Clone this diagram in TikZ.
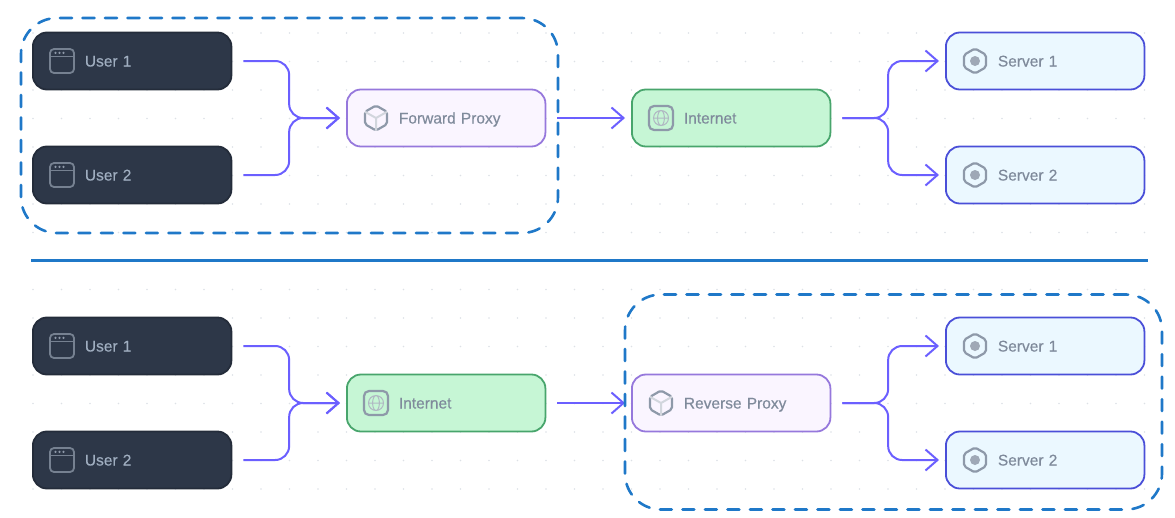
\documentclass[tikz,border=0pt]{standalone}
\usepackage{fontspec}
\setmainfont{Liberation Sans}
\newfontfamily\boxfont{Liberation Sans}[FakeBold=0.35]
\usetikzlibrary{arrows.meta,positioning,calc}
\definecolor{usercol}{HTML}{2D3748}
\definecolor{usertext}{HTML}{A0AEC0}
\definecolor{plaintext}{HTML}{7F8A9B}
\definecolor{iconcol}{HTML}{8E99A9}
\definecolor{proxyfill}{HTML}{FAF5FF}
\definecolor{proxyline}{HTML}{9678DC}
\definecolor{netfill}{HTML}{C6F6D5}
\definecolor{netline}{HTML}{48A56C}
\definecolor{serverfill}{HTML}{EBF8FF}
\definecolor{serverline}{HTML}{4A4FD8}
\definecolor{linkcol}{HTML}{6B5FFF}
\definecolor{framecol}{HTML}{1F78C8}
\definecolor{dotcol}{HTML}{DDE1E6}
\tikzset{
  box/.style={draw,line width=1.8pt,rounded corners=14pt,minimum height=57pt,
    text width=194.5pt,inner xsep=2pt,inner ysep=0pt,text height=13pt,text depth=2pt,
    font=\boxfont\fontsize{15.5}{17}\selectfont,
    execute at begin node=\hspace*{50pt}},
  userbox/.style={box,draw=usercol!80!black,fill=usercol,text=usertext},
  proxybox/.style={box,draw=proxyline,fill=proxyfill,text=plaintext},
  netbox/.style={box,draw=netline,fill=netfill,text=plaintext},
  serverbox/.style={box,draw=serverline,fill=serverfill,text=plaintext},
  link/.style={draw=linkcol,line width=2pt,rounded corners=14pt,shorten <=11pt,shorten >=6pt,
    -{Straight Barb[length=12pt,width=21pt,line width=2pt]}},
  frame/.style={draw=framecol,line width=2.6pt,dash pattern=on 12pt off 10.5pt,
    rounded corners=36pt,minimum width=537pt,minimum height=215pt,line cap=round},
  browsericon/.pic={
    \draw[iconcol!75!usercol,line width=1.8pt,rounded corners=4pt] (-12,-12) rectangle (12,12);
    \draw[iconcol!75!usercol,line width=1.8pt] (-12,-4.5)--(12,-4.5);
    \foreach \i in {-6.5,-2.5,1.5} \fill[iconcol] (\i,-8.2) circle(1.2);
  },
  cubeicon/.pic={
    \draw[iconcol,line width=2.2pt,rounded corners=2pt] (0,-12.5)--(11,-6.2)--(11,6.2)--(0,12.5)--(-11,6.2)--(-11,-6.2)--cycle;
    \draw[iconcol!40,line width=2pt] (-11,-6.2)--(0,0)--(11,-6.2) (0,0)--(0,12.5);
  },
  globeicon/.pic={
    \draw[iconcol,line width=2.2pt,rounded corners=5pt] (-12,-12) rectangle (12,12);
    \draw[iconcol!70,line width=1pt] (0,0) circle(7.5) (-7.5,0)--(7.5,0) (0,0) ellipse(3.4 and 7.5);
  },
  hexicon/.pic={
    \draw[iconcol,line width=2.2pt,rounded corners=2pt] (0,-12.5)--(11,-6.2)--(11,6.2)--(0,12.5)--(-11,6.2)--(-11,-6.2)--cycle;
    \fill[iconcol!85] (0,0) circle(5);
  },
}
\newcommand \mybox[6]
{
\node[#2,anchor=west] (#1) at (#3,#4) {#5};
\pic at ($(#1.west)+(30,0)$) {#6};
}
\begin{document}
\begin{tikzpicture}[x=1pt,y=-1pt]
\useasboundingbox (0,0) rectangle (1175,517);
% dotted paper
\foreach \r in {0,...,16}
  \foreach \c in {0,...,39}
    \fill[dotcol] ({33+28.5*\c},{33+28.5*\r}) circle(0.9);
% upper half
\mybox{ua}{userbox}{32}{61}{User 1}{browsericon}
\mybox{ub}{userbox}{32}{175}{User 2}{browsericon}
\mybox{fp}{proxybox}{346}{118}{Forward Proxy}{cubeicon}
\mybox{na}{netbox}{631}{118}{Internet}{globeicon}
\mybox{sa}{serverbox}{945}{61}{Server 1}{hexicon}
\mybox{sb}{serverbox}{945}{175}{Server 2}{hexicon}
\draw[link] (ua.east) -| ($(ua.east)!0.5!(fp.west)$) |- (fp.west);
\draw[link] (ub.east) -| ($(ub.east)!0.5!(fp.west)$) |- (fp.west);
\draw[link] (fp.east) -- (na.west);
\draw[link] (na.east) -| ($(na.east)!0.5!(sa.west)$) |- (sa.west);
\draw[link] (na.east) -| ($(na.east)!0.5!(sb.west)$) |- (sb.west);
\node[frame] (fwd) at (289.5,125.5) {};
% divider
\coordinate (la) at (31,260.5);
\coordinate (lb) at (1148,260.5);
\draw[framecol,line width=2.3pt] (la)--(lb);
% lower half
\mybox{uc}{userbox}{32}{346}{User 1}{browsericon}
\mybox{ud}{userbox}{32}{460}{User 2}{browsericon}
\mybox{nb}{netbox}{346}{403}{Internet}{globeicon}
\mybox{rp}{proxybox}{631}{403}{Reverse Proxy}{cubeicon}
\mybox{sc}{serverbox}{945}{346}{Server 1}{hexicon}
\mybox{sd}{serverbox}{945}{460}{Server 2}{hexicon}
\draw[link] (uc.east) -| ($(uc.east)!0.5!(nb.west)$) |- (nb.west);
\draw[link] (ud.east) -| ($(ud.east)!0.5!(nb.west)$) |- (nb.west);
\draw[link] (nb.east) -- (rp.west);
\draw[link] (rp.east) -| ($(rp.east)!0.5!(sc.west)$) |- (sc.west);
\draw[link] (rp.east) -| ($(rp.east)!0.5!(sd.west)$) |- (sd.west);
\node[frame] (rev) at (893.5,402) {};
\end{tikzpicture}
\end{document}
